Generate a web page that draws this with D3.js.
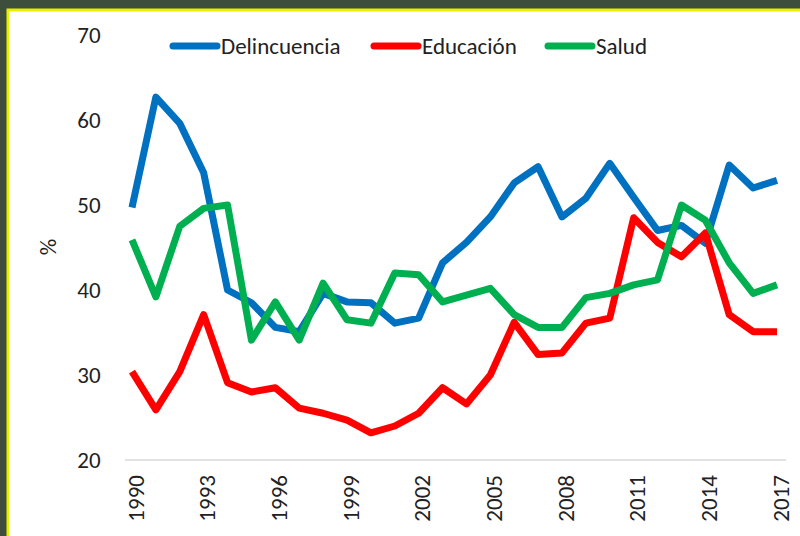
<!DOCTYPE html>
<html>
<head>
<meta charset="utf-8">
<script src="https://cdn.jsdelivr.net/npm/d3@7"></script>
<style>
  html, body { margin: 0; padding: 0; background: #3d4f3c; }
  svg { display: block; }
</style>
</head>
<body>
<svg id="chart" width="800" height="536"></svg>
<script>
var years = d3.range(1990, 2018);
var tickYears = [1990, 1993, 1996, 1999, 2002, 2005, 2008, 2011, 2014, 2017];
var yTicks = [20, 30, 40, 50, 60, 70];

var delincuencia = [49.7, 62.7, 59.6, 53.8, 40.0, 38.5, 35.6, 35.1, 39.6, 38.6,
  38.5, 36.1, 36.7, 43.2, 45.6, 48.6, 52.6, 54.5, 48.6, 50.8,
  54.9, 50.9, 47.0, 47.6, 45.5, 54.7, 52.0, 52.9];
var educacion = [30.4, 25.9, 30.4, 37.1, 29.1, 28.0, 28.5, 26.1, 25.5, 24.7,
  23.2, 24.0, 25.5, 28.5, 26.6, 30.0, 36.2, 32.4, 32.6, 36.1,
  36.7, 48.5, 45.6, 43.9, 46.7, 37.1, 35.1, 35.1];
var salud = [45.9, 39.2, 47.5, 49.6, 50.0, 34.1, 38.6, 34.1, 40.8, 36.5,
  36.1, 42.0, 41.8, 38.6, 39.4, 40.2, 37.1, 35.6, 35.6, 39.1,
  39.6, 40.6, 41.2, 50.0, 48.2, 43.2, 39.6, 40.6];

var seriesNames = ["Delincuencia", "Educación", "Salud"];
var seriesValues = [delincuencia, educacion, salud];
var colors = ["#0070c0", "#ff0000", "#00b050"];

var svg = d3.select("#chart");
var font = "Calibri, Carlito, 'Open Sans', 'Noto Sans', sans-serif";
var fontSize = 23;

// white panel with the yellow edge
svg.append("rect").attr("x", 8).attr("y", 10).attr("width", 800).attr("height", 540)
  .attr("fill", "#ffffff").attr("stroke", "#e8f000").attr("stroke-width", 3);

var x = d3.scaleLinear().domain([1990, 2017]).range([132, 777]);
var y = d3.scaleLinear().domain([20, 70]).range([460, 35]);

// baseline
svg.append("line")
  .attr("x1", 125).attr("x2", 786)
  .attr("y1", y(20)).attr("y2", y(20))
  .attr("stroke", "#d9d9d9").attr("stroke-width", 1.5);

// y axis
var yAxis = svg.append("g")
  .attr("transform", "translate(102,0)")
  .call(d3.axisLeft(y).tickValues(yTicks).tickSize(0).tickPadding(0));
yAxis.select(".domain").remove();
yAxis.selectAll("text")
  .attr("font-family", font).attr("font-size", fontSize).attr("fill", "#222")
  .attr("text-anchor", "middle").attr("x", -13);

svg.append("text")
  .attr("transform", "translate(56,247) rotate(-90)")
  .attr("text-anchor", "middle")
  .attr("font-family", font).attr("font-size", fontSize).attr("fill", "#222")
  .text("%");

// x axis
var xAxis = svg.append("g")
  .attr("transform", "translate(0," + y(20) + ")")
  .call(d3.axisBottom(x).tickValues(tickYears).tickFormat(d3.format("d")).tickSize(0));
xAxis.select(".domain").remove();
xAxis.selectAll("text")
  .attr("font-family", font).attr("font-size", fontSize).attr("fill", "#222")
  .attr("text-anchor", "end")
  .attr("transform", "rotate(-90)")
  .attr("x", -15).attr("y", 3).attr("dy", "0.35em");

// lines
var line = d3.line()
  .x(function(d, i) { return x(years[i]); })
  .y(function(d) { return y(d); });

seriesValues.forEach(function(vals, k) {
  svg.append("path")
    .datum(vals)
    .attr("fill", "none")
    .attr("stroke", colors[k])
    .attr("stroke-width", 7)
    .attr("stroke-linejoin", "round")
    .attr("d", line);
});

// legend
var legendX = [173, 374, 548];
var legend = svg.append("g");
seriesNames.forEach(function(name, k) {
  var g = legend.append("g").attr("transform", "translate(" + legendX[k] + ",46)");
  g.append("line").attr("x1", 0).attr("x2", 44).attr("y1", 0).attr("y2", 0)
    .attr("stroke", colors[k]).attr("stroke-width", 7).attr("stroke-linecap", "round");
  g.append("text").attr("x", 48).attr("y", 0).attr("dy", "0.35em")
    .attr("font-family", font).attr("font-size", fontSize).attr("fill", "#222")
    .text(name);
});
</script>
</body>
</html>
